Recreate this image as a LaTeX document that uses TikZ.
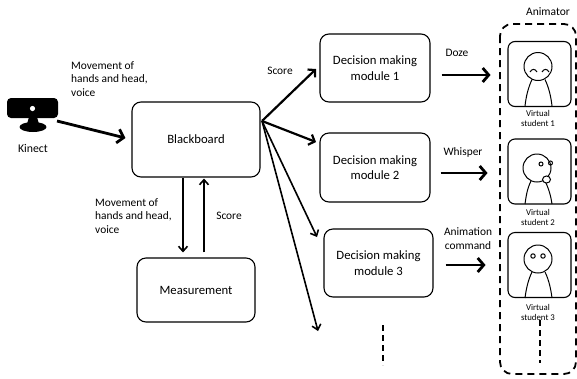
\documentclass[tikz,border=0pt]{standalone}
\usepackage{fontspec}
\setmainfont{Carlito}
\usetikzlibrary{arrows.meta}
\begin{document}
\begin{tikzpicture}[x=1pt,y=-1pt,
  box/.style={draw, line width=1.1pt, rounded corners=9pt, align=center, inner sep=0pt,
    font=\fontsize{12.7}{15.5}\selectfont},
  lbl/.style={align=left, inner sep=0pt, font=\fontsize{11.4}{13.6}\selectfont},
  bigarr/.style={line width=2.8pt, -{Straight Barb[length=6pt,width=14pt]}},
  midarr/.style={line width=2.2pt, -{Straight Barb[length=5pt,width=11pt]}},
  thinarr/.style={line width=1.6pt, -{Straight Barb[length=5pt,width=9pt]}},
  stud/.style={draw, line width=1.1pt, rounded corners=7pt, minimum width=63pt,
    minimum height=65pt, inner sep=0pt},
  studlbl/.style={align=center, inner sep=0pt, font=\fontsize{8.8}{10}\selectfont},
  face/.style={line width=1pt},
  vdash/.style={line width=2.2pt, dash pattern=on 6pt off 4pt},
]
\useasboundingbox (0,0) rectangle (577,378);

% Kinect sensor
\fill[rounded corners=4pt] (7,98) rectangle (58,118);
\fill[white] (32.5,108.5) circle (2.6pt);
\fill (29,117) -- (37,117) -- (39,124) -- (27,124) -- cycle;
\fill (33,127) ellipse [x radius=13.5pt, y radius=5pt];
\node[inner sep=0pt, font=\fontsize{11.8}{13}\selectfont] (kl) at (33,148) {Kinect};
\coordinate (kin) at (57,121);

% main boxes
\node[box, minimum width=128pt, minimum height=75pt] (bb) at (196,139.5) {Blackboard};
\node[box, minimum width=118pt, minimum height=64pt] (ms) at (196,290) {Measurement};
\node[box, minimum width=110pt, minimum height=68pt] (dm1) at (375,68) {Decision making\\module 1};
\node[box, minimum width=110pt, minimum height=69pt] (dm2) at (375,167.5) {Decision making\\module 2};
\node[box, minimum width=109pt, minimum height=68pt] (dm3) at (378.5,263) {Decision making\\module 3};

% input from the sensor
\node[lbl, anchor=west] (l1) at (71,79) {Movement of\\hands and head,\\voice};
\draw[bigarr] (kin) -- ([xshift=-6pt,yshift=1.5pt]bb.west);

% blackboard <-> measurement
\draw[thinarr] ([xshift=-13pt]bb.south) -- ([xshift=-13pt,yshift=5pt]ms.north);
\draw[thinarr] ([xshift=8pt,yshift=5pt]ms.north) -- ([xshift=8pt,yshift=-1pt]bb.south);
\node[lbl, anchor=west] (l2) at (95,216) {Movement of\\hands and head,\\voice};
\node[lbl] (l3) at (229,216) {Score};

% scores fanned out to the decision modules
\coordinate (fan) at (262,121);
\coordinate (f1) at (316,69);
\coordinate (f2) at (316,142);
\coordinate (f3) at (317,237);
\coordinate (f4) at (318,331);
\draw[midarr] (fan) -- (f1);
\draw[midarr] (fan) -- (f2);
\draw[thinarr] (fan) -- (f3);
\draw[thinarr] (fan) -- (f4);
\node[lbl] (l4) at (280,71) {Score};
\draw[vdash] (383,325) -- (383,365);

% commands to the animator
\draw[bigarr] ([xshift=11pt,yshift=-7pt]dm1.east) -- ++(49,0);
\draw[bigarr] ([xshift=10pt,yshift=-5.5pt]dm2.east) -- ++(47,0);
\draw[bigarr] ([xshift=12pt,yshift=-2pt]dm3.east) -- ++(40,0);
\node[lbl] (l5) at (457,53) {Doze};
\node[lbl] (l6) at (463,152) {Whisper};
\node[lbl, align=center] (l7) at (468,238.5) {Animation\\command};

% animator
\draw[line width=1.8pt, dash pattern=on 7pt off 5pt, rounded corners=12pt] (500,24) rectangle (576,374);
\node[inner sep=0pt, font=\fontsize{11.5}{12}\selectfont] (an) at (548,12) {Animator};

\node[stud] (s1) at (539.5,74) {};
\node[stud] (s2) at (539.5,171.5) {};
\node[stud] (s3) at (539.5,265) {};
\node[studlbl] (t1) at (538,118) {Virtual\\student 1};
\node[studlbl] (t2) at (538,217) {Virtual\\student 2};
\node[studlbl] (t3) at (538,312) {Virtual\\student 3};

% student 1: dozing
\draw[face] (538,66.5) circle (14pt);
\draw[face] (532,79.5) .. controls (528,88) and (526,97) .. (525,106);
\draw[face] (545,79.5) .. controls (549,88) and (551,97) .. (552,106);
\draw[face] (530,72) .. controls (532,68.5) and (535,68.5) .. (537,72);
\draw[face] (542,72) .. controls (544,68.5) and (547,68.5) .. (549,72);

% student 2: whispering
\draw[face] (537,168) circle (14pt);
\draw[face] (531,181) .. controls (527,189) and (526,197) .. (525,204);
\draw[face] (545,181) .. controls (549,189) and (551,197) .. (552,204);
\draw[face] (541,164) circle (2pt);
\draw[face] (550.5,163) circle (2pt);
\draw[face, fill=white] (546.5,179.5) ellipse [x radius=4pt, y radius=3.5pt];

% student 3: attentive
\draw[face] (538,259) circle (14pt);
\draw[face] (532,272) .. controls (528,280) and (526,290) .. (525,298);
\draw[face] (545,272) .. controls (549,280) and (551,290) .. (552,298);
\draw[face] (533,256) circle (2.2pt);
\draw[face] (543,256) circle (2.2pt);
\draw[vdash] (540,320) -- (540,363);
\end{tikzpicture}
\end{document}
